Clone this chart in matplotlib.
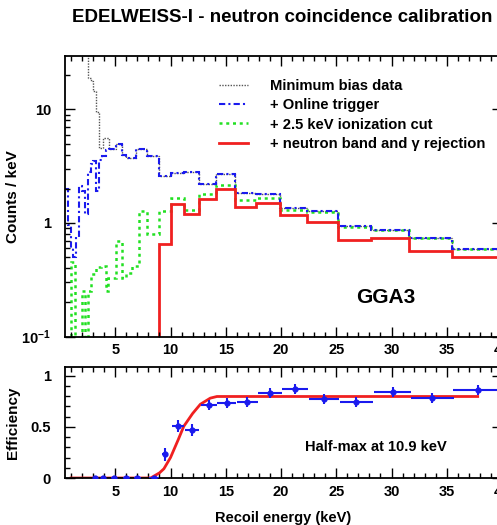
import matplotlib
matplotlib.use("Agg")
import matplotlib.pyplot as plt
from matplotlib.ticker import FixedLocator, FixedFormatter, MultipleLocator, LogLocator, NullFormatter
from matplotlib.lines import Line2D

plt.rcParams['font.family'] = ['Liberation Sans', 'DejaVu Sans']
plt.rcParams['font.weight'] = 'bold'
plt.rcParams['mathtext.fontset'] = 'custom'
plt.rcParams['mathtext.rm'] = 'Liberation Sans:bold'
plt.rcParams['mathtext.bf'] = 'Liberation Sans:bold'
plt.rcParams['mathtext.it'] = 'Liberation Sans:italic:bold'

# ---------------- data ----------------
title = "EDELWEISS-I - neutron coincidence calibration"
legend_labels = ["Minimum bias data", "+ Online trigger",
                 "+ 2.5 keV ionization cut", "+ neutron band and \u03b3 rejection"]

# Minimum bias data (step histogram)
gray_edges = [0.45, 2.52, 2.76, 3.0, 3.22, 3.52, 3.9, 4.45, 5.03, 5.63, 6.0, 6.84, 7.9,
              8.95, 10.0, 11.22, 12.59, 14.13, 15.85, 17.78, 19.95, 22.39, 25.12,
              28.18, 31.62, 35.48, 40.0]
gray_vals = [300, 19, 17.6, 14.4, 9.5, 4.6, 5.6, 4.5, 5.0, 3.95, 3.7, 4.5, 3.9,
             2.6, 2.75, 2.8, 2.2, 2.67, 1.85, 1.8, 1.35, 1.27, 0.94, 0.87, 0.74, 0.59]

# + Online trigger
blue_edges = [0.45, 0.7, 0.95, 1.2, 1.45, 1.7, 1.98, 2.25, 2.5, 2.76, 3.0, 3.22, 3.52,
              3.82, 4.12, 4.45, 5.03, 5.63, 6.0, 6.84, 7.9, 8.95, 10.0, 11.22, 12.59,
              14.13, 15.85, 17.78, 19.95, 22.39, 25.12, 28.18, 31.62, 35.48, 40.0]
blue_vals = [2.0, 0.95, 0.6, 0.5, 0.75, 2.1, 1.9, 1.2, 2.8, 3.3, 3.5, 1.9, 3.6,
             3.9, 4.4, 4.5, 5.0, 3.95, 3.7, 4.5, 3.9, 2.6, 2.75, 2.8, 2.2, 2.67,
             1.85, 1.8, 1.35, 1.27, 0.94, 0.87, 0.74, 0.59]

# + 2.5 keV ionization cut
green_edges = [0.45, 0.95, 1.4, 1.95, 2.3, 2.5, 2.76, 3.22, 3.67, 4.12, 4.3, 5.03,
               5.63, 5.93, 6.54, 7.14, 7.9, 8.95, 10.0, 11.22, 12.59, 14.13, 15.85,
               17.78, 19.95, 22.39, 25.12, 28.18, 31.62, 35.48, 40.0]
green_vals = [0.05, 0.45, 0.06, 0.25, 0.06, 0.25, 0.355, 0.41, 0.42, 0.25, 0.33,
              0.69, 0.33, 0.36, 0.42, 1.27, 0.8, 1.27, 1.67, 1.29, 1.79, 2.15, 1.6,
              1.67, 1.31, 1.26, 0.92, 0.86, 0.73, 0.59]

# + neutron band and gamma rejection
red_edges = [0.45, 8.95, 10.0, 11.22, 12.59, 14.13, 15.85, 17.78, 19.95, 22.39,
             25.12, 28.18, 31.62, 35.48, 40.0]
red_vals = [0.001, 0.65, 1.47, 1.2, 1.62, 1.98, 1.37, 1.51, 1.18, 1.02, 0.71, 0.74,
            0.57, 0.50]

# Efficiency points
eff_x = [3.2, 3.9, 4.85, 6.0, 7.0, 8.5, 9.5, 10.7, 11.95, 13.5, 15.1, 16.95, 19.0,
         21.25, 23.9, 26.8, 30.1, 33.7, 37.8]
eff_y = [0.0, 0.0, 0.0, 0.0, 0.0, 0.0, 0.23, 0.505, 0.47, 0.715, 0.73, 0.74, 0.83,
         0.87, 0.77, 0.74, 0.84, 0.78, 0.86]
eff_xerr = [0.15, 0.2, 0.25, 0.3, 0.35, 0.45, 0.3, 0.55, 0.65, 0.75, 0.85, 0.95,
            1.05, 1.2, 1.35, 1.5, 1.7, 1.95, 2.2]
eff_yerr = [0.0, 0.0, 0.0, 0.0, 0.0, 0.0, 0.065, 0.06, 0.06, 0.05, 0.05, 0.05,
            0.045, 0.045, 0.05, 0.05, 0.045, 0.05, 0.05]

# Fit curve
fit_x = [1.0, 8.2, 9.0, 9.4, 10.0, 10.7, 11.2, 12.0, 12.7, 13.6, 14.2, 37.8]
fit_y = [0.0, 0.0, 0.05, 0.09, 0.2, 0.375, 0.505, 0.63, 0.72, 0.78, 0.796, 0.796]

# ---------------- figure ----------------
W, H = 497, 525
fig = plt.figure(figsize=(W / 100, H / 100), dpi=100)

def fx(px):
    return px / W

def fy(py):
    return 1 - py / H

ax1 = fig.add_axes([fx(65), fy(336.5), fx(502) - fx(65), fy(56) - fy(336.5)])
ax2 = fig.add_axes([fx(65), fy(478), fx(502) - fx(65), fy(366.7) - fy(478)])

c_gray = '#555555'
c_blue = '#1a1aee'
c_green = '#22e022'
c_red = '#f02020'

ax1.stairs(gray_vals, gray_edges, baseline=None, color=c_gray, lw=1.0,
           linestyle=(0, (1, 1)))
ax1.stairs(green_vals, green_edges, baseline=None, color=c_green, lw=1.8,
           linestyle=(0, (1.2, 1.5)))
ax1.stairs(blue_vals, blue_edges, baseline=None, color=c_blue, lw=1.5,
           linestyle=(0, (3, 1.5, 1, 1.5)))
ax1.stairs(red_vals, red_edges, baseline=None, color=c_red, lw=2.0)

ax1.set_yscale('log')
ax1.set_xlim(0.45, 40)
ax1.set_ylim(0.1, 29.5)

fs = 10.5
ax1.yaxis.set_major_locator(FixedLocator([0.1, 1, 10]))
ax1.yaxis.set_major_formatter(FixedFormatter(['$10^{-1}$', '1', '10']))
ax1.yaxis.set_minor_locator(LogLocator(base=10, subs=range(2, 10), numticks=10))
ax1.yaxis.set_minor_formatter(NullFormatter())

for ax in (ax1, ax2):
    ax.xaxis.set_major_locator(MultipleLocator(5))
    ax.xaxis.set_minor_locator(MultipleLocator(1))
    ax.tick_params(which='both', direction='in', top=True, right=True,
                   labelsize=fs, width=1.0)
    ax.tick_params(axis='x', which='both', pad=5)
    ax.tick_params(axis='y', which='both', pad=10)
    ax.tick_params(which='major', length=7)
    ax.tick_params(which='minor', length=3.5)
    for s in ax.spines.values():
        s.set_linewidth(1.3)

ax1.set_ylabel("Counts / keV", fontsize=11, fontweight='bold')
ax1.yaxis.set_label_coords(-0.103, 0.5)

handles = [Line2D([], [], color=c_gray, lw=1.0, linestyle=(0, (1, 1))),
           Line2D([], [], color=c_blue, lw=1.5, linestyle=(0, (3, 1.5, 1, 1.5))),
           Line2D([], [], color=c_green, lw=1.8, linestyle=(0, (1.2, 1.5))),
           Line2D([], [], color=c_red, lw=2.0)]
fig.legend(handles, legend_labels, loc='upper left', bbox_to_anchor=(fx(219), fy(79)),
           frameon=False, borderpad=0, borderaxespad=0, handlelength=1.95,
           handletextpad=1.5, labelspacing=0.36,
           prop={'family': 'Liberation Sans', 'weight': 'bold', 'size': 10.6})

ax1.text(29.5, 0.22, "GGA3", fontsize=15, fontweight='bold', ha='center', va='center')

# bottom panel
ax2.errorbar(eff_x, eff_y, xerr=eff_xerr, yerr=eff_yerr, fmt='o', color=c_blue,
             ms=3.5, elinewidth=1.5, capsize=0, zorder=3)
ax2.plot(fit_x, fit_y, color=c_red, lw=2.0, zorder=2)
ax2.set_xlim(0.45, 40)
ax2.set_ylim(0, 1.087)
ax2.yaxis.set_major_locator(FixedLocator([0, 0.5, 1]))
ax2.yaxis.set_major_formatter(FixedFormatter(['0', '0.5', '1']))
ax2.yaxis.set_minor_locator(MultipleLocator(0.1))
ax2.set_ylabel("Efficiency", fontsize=11, fontweight='bold')
ax2.yaxis.set_label_coords(-0.103, 0.5)
ax2.set_xlabel("Recoil energy (keV)", fontsize=10.5, fontweight='bold', labelpad=9)
ax2.text(28.6, 0.3, "Half-max at 10.9 keV", fontsize=10.5, fontweight='bold',
         ha='center', va='center')

fig.text(fx(282), fy(18), title, fontsize=13.5, fontweight='bold', ha='center',
         va='center')

fig.savefig("out.png", dpi=100)
